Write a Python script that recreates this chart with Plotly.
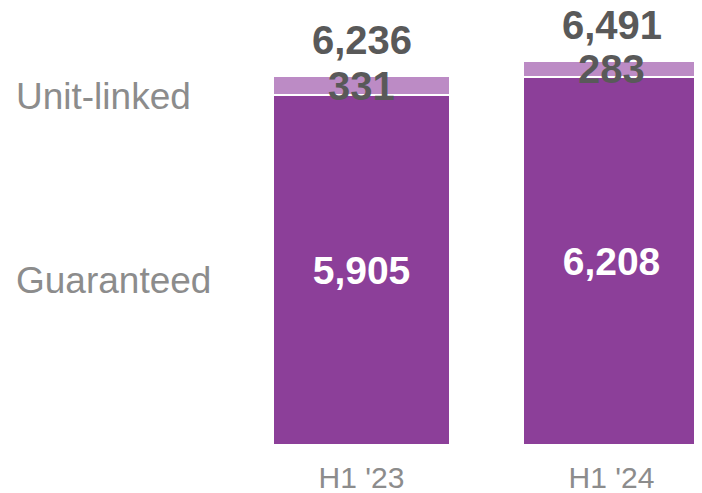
import plotly.graph_objects as go

# data
periods = ["H1 '23", "H1 '24"]
guaranteed = [5905, 6208]
unit_linked = [331, 283]
totals = [6236, 6491]

FONT = "Arial, Liberation Sans, sans-serif"
DARK_PURPLE = "#8C3F99"
LIGHT_PURPLE = "#BC8BC5"
LABEL_GREY = "#8C8C8C"
VALUE_GREY = "#595959"

# the page puts the figure 8px in from the top-left corner
OFF = 8
BASE = 445 - OFF          # bar baseline in figure pixels
PX_PER_UNIT = 0.0592

xs = list(range(len(periods)))

fig = go.Figure()
fig.add_bar(
    x=xs, y=guaranteed, name="Guaranteed", width=0.71,
    marker=dict(color=DARK_PURPLE, line=dict(color="white", width=2)),
    text=[f"{v:,}" for v in guaranteed], textposition="inside",
    insidetextanchor="middle", textangle=0,
    textfont=dict(family=FONT, size=39, color="white", weight="bold"),
)
fig.add_bar(
    x=xs, y=unit_linked, name="Unit-linked", width=0.71,
    marker=dict(color=LIGHT_PURPLE, line=dict(color="white", width=2)),
)

# unit-linked values spill over their thin segment, so draw them as annotations
for i, (g, u) in enumerate(zip(guaranteed, unit_linked)):
    fig.add_annotation(
        x=i, y=g + u / 2, text=f"<b>{u:,}</b>", showarrow=False,
        font=dict(family=FONT, size=40, color=VALUE_GREY),
        xanchor="center", yanchor="middle",
    )
# totals above the bars
for i, t in enumerate(totals):
    fig.add_annotation(
        x=i, y=t, text=f"<b>{t:,}</b>", showarrow=False,
        font=dict(family=FONT, size=40, color=VALUE_GREY),
        xanchor="center", yanchor="middle", yshift=36,
    )

# series labels on the left
for label, ypx in [("Unit-linked", 96), ("Guaranteed", 280)]:
    fig.add_annotation(
        xref="paper", yref="paper", x=(14 - OFF) / 702,
        y=(BASE - (ypx - OFF)) / BASE,
        text=label, showarrow=False, xanchor="left", yanchor="middle",
        font=dict(family=FONT, size=37, color=LABEL_GREY),
    )

fig.update_layout(
    barmode="stack",
    width=702, height=493,
    margin=dict(l=0, r=0, t=0, b=493 - BASE),
    paper_bgcolor="white", plot_bgcolor="white",
    showlegend=False,
    uniformtext=dict(mode=False),
)
fig.update_traces(cliponaxis=False, constraintext="none")
x0 = -(361.5 - OFF) / 250
fig.update_xaxes(
    range=[x0, x0 + 702 / 250], tickvals=xs, ticktext=periods,
    showgrid=False, zeroline=False, showline=False, automargin=False,
    ticks="outside", ticklen=6, tickcolor="rgba(0,0,0,0)",
    tickfont=dict(family=FONT, size=30, color=LABEL_GREY),
)
fig.update_yaxes(
    range=[0, BASE / PX_PER_UNIT], visible=False, showgrid=False, zeroline=False,
)

fig.write_html("out.html")
